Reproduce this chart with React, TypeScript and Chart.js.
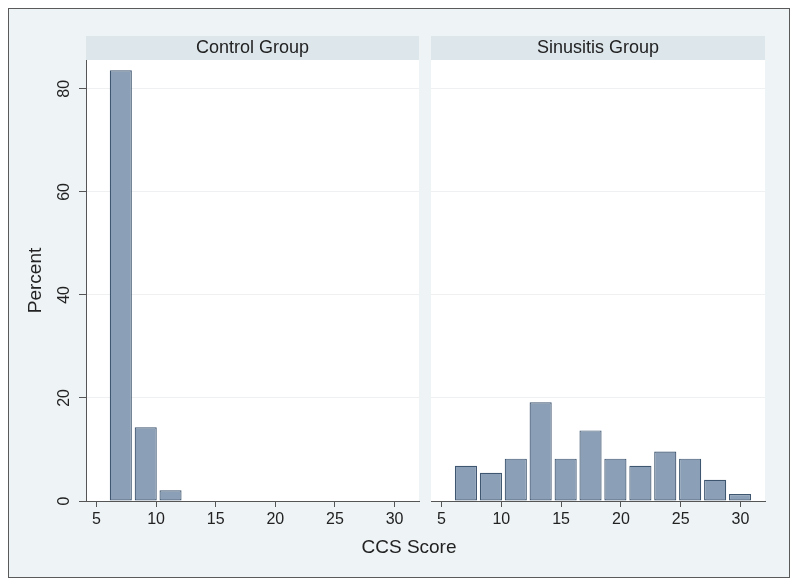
import React, { useEffect, useRef } from 'react';
import { Chart, registerables } from 'chart.js';

Chart.register(...registerables);

const FONT = '"Liberation Sans", Arial, Helvetica, sans-serif';
Chart.defaults.font.family = FONT;

// Histogram bins (CCS score), bin centres
const binCenters = [7.04, 9.13, 11.21, 13.29, 15.38, 17.46, 19.54, 21.63, 23.71, 25.79, 27.88, 29.96];
// Percent per bin
const controlPercent = [83.6, 14.3, 2.1];
const sinusitisPercent = [6.85, 5.48, 8.22, 19.18, 8.22, 13.7, 8.22, 6.85, 9.59, 8.22, 4.11, 1.37];
const panelTitles = ['Control Group', 'Sinusitis Group'];
const yTitle = 'Percent';
const xTitle = 'CCS Score';

const decor = {
  id: 'panelDecor',
  beforeDraw(chart: any, _args: any, opts: any) {
    const { ctx, chartArea: a } = chart;
    ctx.save();
    ctx.fillStyle = '#ffffff';
    ctx.fillRect(a.left, a.top, a.right - a.left, a.bottom - a.top);
    ctx.fillStyle = '#dce6eb';
    ctx.fillRect(a.left, a.top - 24, a.right - a.left, 24);
    ctx.fillStyle = '#222222';
    ctx.font = `18px ${FONT}`;
    ctx.textAlign = 'center';
    ctx.textBaseline = 'middle';
    ctx.fillText(opts.title, (a.left + a.right) / 2, a.top - 12);
    ctx.restore();
  },
};

function makeConfig(isLeft: boolean, title: string, values: number[]): any {
  const data = values.map((v, i) => ({ x: binCenters[i], y: v }));
  return {
    type: 'bar',
    data: {
      datasets: [
        {
          data,
          backgroundColor: '#8b9fb6',
          borderColor: '#3f5670',
          borderWidth: 1.2,
          borderSkipped: false,
          barPercentage: 0.89,
          categoryPercentage: 1,
        },
      ],
    },
    options: {
      animation: false,
      responsive: false,
      events: [],
      layout: { padding: { top: 51, left: isLeft ? 0 : 6, right: isLeft ? 6 : 24, bottom: 0 } },
      plugins: {
        legend: { display: false },
        tooltip: { enabled: false },
        panelDecor: { title },
      },
      scales: {
        x: {
          type: 'linear',
          offset: false,
          min: 4.12,
          max: 32.05,
          afterFit: (s: any) => {
            s.height = 76;
          },
          ticks: {
            stepSize: 5,
            includeBounds: false,
            padding: 3,
            maxRotation: 0,
            font: { size: 16 },
            color: '#222222',
          },
          grid: { offset: false, drawOnChartArea: false, drawTicks: true, tickLength: 6, tickColor: '#555555' },
          border: { color: '#555555', width: 1 },
        },
        y: {
          min: 0,
          max: 85.6,
          afterFit: (s: any) => {
            s.width = isLeft ? 77 : 0;
          },
          ticks: {
            display: isLeft,
            stepSize: 20,
            includeBounds: false,
            minRotation: 90,
            maxRotation: 90,
            crossAlign: 'center',
            padding: 6,
            font: { size: 16 },
            color: '#222222',
          },
          grid: { color: '#eef0f1', drawTicks: isLeft, tickLength: 7, tickColor: '#555555' },
          border: { display: isLeft, color: '#555555', width: 1 },
          title: {
            display: isLeft,
            text: yTitle,
            font: { size: 19 },
            color: '#222222',
            padding: { top: 15.6, bottom: 0 },
          },
        },
      },
    },
    plugins: [decor],
  };
}

export default function App() {
  const leftRef = useRef<HTMLCanvasElement>(null);
  const rightRef = useRef<HTMLCanvasElement>(null);

  useEffect(() => {
    const left = new Chart(leftRef.current as HTMLCanvasElement, makeConfig(true, panelTitles[0], controlPercent));
    const right = new Chart(rightRef.current as HTMLCanvasElement, makeConfig(false, panelTitles[1], sinusitisPercent));
    return () => {
      left.destroy();
      right.destroy();
    };
  }, []);

  return (
    <div
      style={{
        position: 'relative',
        width: 782,
        height: 570,
        boxSizing: 'border-box',
        border: '1px solid #5a5a5a',
        background: '#eef3f6',
        fontFamily: FONT,
      }}
    >
      <canvas ref={leftRef} width={416} height={568} style={{ position: 'absolute', left: 0, top: 0 }} />
      <canvas ref={rightRef} width={364} height={568} style={{ position: 'absolute', left: 416, top: 0 }} />
      <div
        style={{
          position: 'absolute',
          left: 300,
          top: 527,
          width: 200,
          textAlign: 'center',
          fontSize: 19,
          lineHeight: '22px',
          color: '#222222',
        }}
      >
        {xTitle}
      </div>
    </div>
  );
}
